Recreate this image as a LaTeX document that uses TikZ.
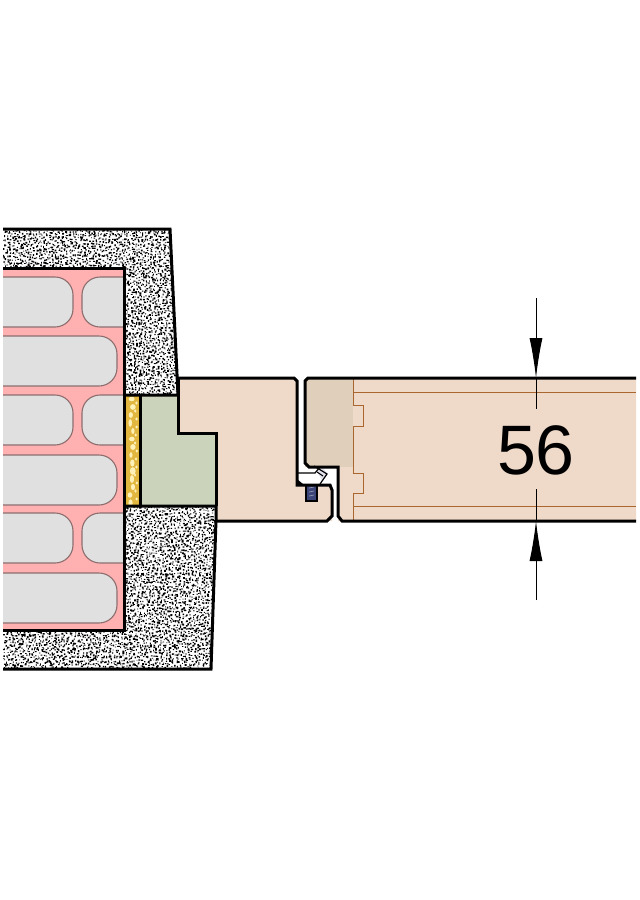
\documentclass[tikz,border=0pt]{standalone}
\usepackage{fontspec}
\setmainfont{Liberation Sans}
\usetikzlibrary{arrows.meta}
\definecolor{wood}{HTML}{EFD9C8}
\definecolor{woodDark}{HTML}{DFCFBB}
\definecolor{grain}{HTML}{A9672F}
\definecolor{brickPink}{HTML}{FFB0B0}
\definecolor{brickHole}{HTML}{E0E0E0}
\definecolor{brickEdge}{HTML}{8C6E6E}
\definecolor{filler}{HTML}{CBD4BA}
\definecolor{foam}{HTML}{E2B73F}
\definecolor{foamPale}{HTML}{FFF1B8}
\definecolor{screwBlue}{HTML}{3C4577}
\tikzset{
    outline/.style={line width=3pt, line join=miter},
    woodline/.style={grain, line width=1pt},
    holeedge/.style={brickEdge, line width=1.1pt},
    dimline/.style={line width=1pt},
    dimtip/.style={-{Latex[length=40pt,width=13pt]}}
}
% hole with its round end on the right
\newcommand{\holeR}[3]{
    \fill[brickHole] (3,#1) -- (#3-18,#1) arc[start angle=-90,end angle=0,radius=18] -- (#3,#2-18) arc[start angle=0,end angle=90,radius=18] -- (3,#2) -- cycle;
    \draw[holeedge] (3,#1) -- (#3-18,#1) arc[start angle=-90,end angle=0,radius=18] -- (#3,#2-18) arc[start angle=0,end angle=90,radius=18] -- (3,#2);
}
% hole with its round end on the left
\newcommand{\holeL}[2]{
    \fill[brickHole] (123,#1) -- (100,#1) arc[start angle=270,end angle=180,radius=18] -- (82,#2-18) arc[start angle=180,end angle=90,radius=18] -- (123,#2) -- cycle;
    \draw[holeedge] (123,#1) -- (100,#1) arc[start angle=270,end angle=180,radius=18] -- (82,#2-18) arc[start angle=180,end angle=90,radius=18] -- (123,#2);
}
% grains on a shaken grid: x from, x to, y from, y to
\newcommand{\grains}[4]{
    \pgfmathsetmacro{\xnext}{#1+2.6}
    \pgfmathsetmacro{\ynext}{#3+2.6}
    \fill[black] foreach \gx in {#1,\xnext,...,#2} {foreach \gy in {#3,\ynext,...,#4} {({\gx+rnd*2.6},{\gy+rnd*2.6}) rectangle +({0.7+rnd*1.3},{0.7+rnd*1.3})}};
}
\begin{document}
\begin{tikzpicture}[x=1pt,y=-1pt]
    \useasboundingbox (0,0) rectangle (640,900);
    \pgfmathsetseed{56}

    % Plaster
    \begin{scope}
        \clip (3,229) -- (170,229) -- (178,395) -- (124,395) -- (124,268) -- (3,268) -- cycle;
        \grains{3}{170}{229}{268}
        \grains{124}{178}{268}{395}
    \end{scope}
    \begin{scope}
        \clip (124,506) -- (216,506) -- (216,520) -- (211,669) -- (3,669) -- (3,630) -- (124,630) -- cycle;
        \grains{124}{216}{506}{630}
        \grains{3}{216}{630}{669}
    \end{scope}

    % Brick
    \fill[brickPink] (3,268) rectangle (124,630);
    \foreach \rowtop in {277,395,513} {
        \holeR{\rowtop}{\rowtop+50}{73}
        \holeL{\rowtop}{\rowtop+50}
    }
    \foreach \rowtop in {336,455,573} {
        \holeR{\rowtop}{\rowtop+50}{117}
    }
    \draw[outline] (3,268) -- (124,268) -- (124,630) -- (3,630);

    % Foam strip
    \fill[foam] (124,395) rectangle (140,506);
    \foreach \by in {399,407,...,503} {
        \fill[foamPale] ({130+rnd*3},\by) ellipse[x radius={1.5+rnd*1.5},y radius={2+rnd*2}];
        \fill[foamPale] ({135+rnd*2},{\by+4}) ellipse[x radius=1.3,y radius=1.6];
    }

    % Filler
    \fill[filler] (140,395) -- (178,395) -- (178,433) -- (216,433) -- (216,506) -- (140,506) -- cycle;

    % Frame
    \fill[wood] (178,378) -- (297,378) -- (297,485) -- (330,485) -- (332,490) -- (332,521) -- (216,521) -- (216,433) -- (178,433) -- cycle;

    % Door leaf
    \fill[wood] (305,378) -- (636,378) -- (636,521) -- (338,521) -- (338,467) -- (305,467) -- cycle;
    \fill[woodDark] (305,378) rectangle (353,467);
    \draw[woodline] (353,378) -- (353,405) -- (363,405) -- (363,426) -- (353,426) -- (353,473) -- (363,473) -- (363,493) -- (353,493) -- (353,521);
    \draw[woodline] (353,392) -- (636,392);
    \draw[woodline] (353,506) -- (636,506);

    % Seal and screw
    \fill[screwBlue] (306,484) rectangle (317,501);
    \foreach \sy in {488,492,496} {
        \draw[white!45!screwBlue,line width=0.7pt] (309,\sy) -- (314,\sy-1);
    }
    \draw[black,line width=1.8pt] (306,484) -- (306,501) -- (317,501) -- (317,484);
    \fill[white] (297,473) -- (316,473) -- (322,467) -- (328,474) -- (320,485) -- (297,485) -- cycle;
    \fill[white!85!screwBlue] (316,470) -- (322,467) -- (328,474) -- (322,480) -- cycle;
    \draw[black,line width=1.2pt] (297,473) -- (315,473) -- (320,467);
    \draw[black,line width=1.2pt] (314,466) -- (327,474) -- (320,484);
    \draw[black,line width=1pt] (317,472) -- (323,476);
    \fill[black] (297,479) -- (303,484) -- (297,485) -- cycle;

    % Outlines
    \draw[outline] (3,229) -- (170,229) -- (178,395) -- (124,395);
    \draw[outline] (124,506) -- (216,506) -- (216,520) -- (211,669) -- (3,669);
    \draw[outline] (124,395) -- (124,506);
    \draw[outline] (140,395) -- (140,506);
    \draw[outline] (178,378) -- (294,378) -- (297,381) -- (297,485) -- (330,485) -- (332,490) -- (332,516) -- (327,521) -- (216,521);
    \draw[outline] (178,378) -- (178,433) -- (216,433) -- (216,506);
    \draw[outline] (636,378) -- (308,378) -- (305,381) -- (305,463) -- (309,467) -- (338,467) -- (338,516) -- (342,521) -- (636,521);

    % Thickness dimension
    \coordinate (topFar) at (536,298);
    \coordinate (topEdge) at (536,378);
    \coordinate (topEnd) at (536,409);
    \coordinate (lowFar) at (536,600);
    \coordinate (lowEdge) at (536,521);
    \coordinate (lowEnd) at (536,489);
    \draw[dimline,dimtip] (topFar) -- (topEdge);
    \draw[dimline] (topEdge) -- (topEnd);
    \draw[dimline,dimtip] (lowFar) -- (lowEdge);
    \draw[dimline] (lowEdge) -- (lowEnd);
    \node[font=\fontsize{70}{70}\selectfont, inner sep=0pt] (thick) at (536,450) {56};
\end{tikzpicture}
\end{document}
